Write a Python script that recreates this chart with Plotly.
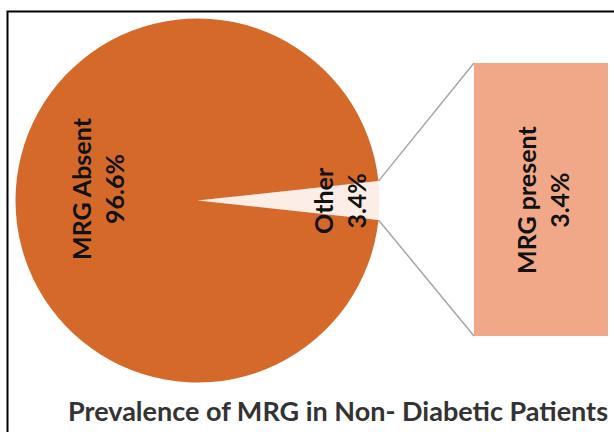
import math
import plotly.graph_objects as go

# ---- data ----
pie_labels = ["Other", "MRG Absent"]
pie_values = [3.4, 96.6]
bar_labels = ["MRG present"]
bar_values = [3.4]
title_text = "Prevalence of MRG in Non- Diabetic Patients"

W, H = 614, 432
FONT = "Lato"

# pie geometry (pixels)
cx, cy, R = 197.5, 200.5, 182.0
total = sum(pie_values)
other_deg = 360.0 * pie_values[0] / total
rotation = 90.0 - other_deg / 2.0

# bar box (pixels)
bx0, bx1, by0, by1 = 474, 608, 63, 336

def px(x):
    return x / W

def py(y):
    return 1 - y / H

fig = go.Figure()

fig.add_trace(go.Pie(
    labels=pie_labels,
    values=pie_values,
    sort=False,
    direction="clockwise",
    rotation=rotation,
    marker=dict(colors=["#FCEEE7", "#D4692A"], line=dict(width=0)),
    textinfo="none",
    hoverinfo="label+percent",
    showlegend=False,
    domain=dict(x=[px(cx - R), px(cx + R)], y=[py(cy + R), py(cy - R)]),
))

fig.add_trace(go.Bar(
    x=[0], y=bar_values,
    width=1,
    marker=dict(color="#F0A888", line=dict(width=0)),
    showlegend=False,
    hoverinfo="y",
    xaxis="x", yaxis="y",
))

fig.update_layout(
    width=W, height=H,
    margin=dict(l=0, r=0, t=0, b=0),
    paper_bgcolor="white",
    plot_bgcolor="rgba(0,0,0,0)",
    xaxis=dict(domain=[px(bx0), px(bx1)], range=[-0.5, 0.5], visible=False, fixedrange=True),
    yaxis=dict(domain=[py(by1), py(by0)], range=[0, bar_values[0]], visible=False, fixedrange=True),
)

# connector lines from the pie's "Other" wedge edges to the bar corners
half = math.radians(other_deg / 2.0)
ex = cx + R * math.cos(half)
ey_top = cy - R * math.sin(half)
ey_bot = cy + R * math.sin(half)
shapes = [
    dict(type="line", xref="paper", yref="paper",
         x0=px(ex), y0=py(ey_top), x1=px(bx0), y1=py(by0),
         line=dict(color="#A6A6A6", width=1.5)),
    dict(type="line", xref="paper", yref="paper",
         x0=px(ex), y0=py(ey_bot), x1=px(bx0), y1=py(by1),
         line=dict(color="#A6A6A6", width=1.5)),
    dict(type="rect", xref="paper", yref="paper",
         x0=px(7.5), y0=py(11.5), x1=1.05, y1=-0.05,
         line=dict(color="black", width=2), fillcolor="rgba(0,0,0,0)"),
]
fig.update_layout(shapes=shapes)

def fmt(label, v):
    return f"{label}<br>{v:.1f}%"

lab_font = dict(family=FONT, size=25, color="#111111", weight="bold")
common = dict(xref="paper", yref="paper", showarrow=False, xanchor="center", yanchor="middle")
annotations = [
    dict(text=fmt(pie_labels[1], pie_values[1] / total * 100), x=px(98), y=py(188),
         textangle=-90, font=lab_font, **common),
    dict(text=fmt(pie_labels[0], pie_values[0] / total * 100), x=px(339), y=py(201),
         textangle=-90, font=lab_font, **common),
    dict(text=fmt(bar_labels[0], bar_values[0]), x=px(542), y=py(200),
         textangle=-90, font=lab_font, **common),
    dict(text=title_text, x=px(338), y=py(410),
         font=dict(family=FONT, size=27, color="#333333", weight="bold"), **common),
]
fig.update_layout(annotations=annotations)

fig.write_html("out.html", config={"displayModeBar": False},
               post_script="document.body.style.margin='0';")
